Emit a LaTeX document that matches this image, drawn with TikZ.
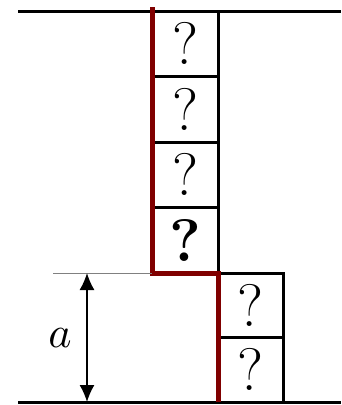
\documentclass[tikz,border=0pt]{standalone}
\usetikzlibrary{arrows.meta}
\definecolor{wallred}{RGB}{128,0,0}
\begin{document}
\begin{tikzpicture}[x=1pt,y=-1pt,
  qbox/.style={draw=black,line width=3pt,outer sep=0pt,minimum width=66pt,minimum height=65.5pt,inner sep=0pt,font=\fontsize{60}{64}\selectfont},
  wall/.style={line width=3pt,black},
  redpath/.style={line width=5pt,wallred,line join=miter},
  dim/.style={line width=1.5pt,{Latex[length=17pt,width=15pt]}-{Latex[length=17pt,width=15pt]}}]
\useasboundingbox (0,0) rectangle (341,405);
% boxes
\node[qbox] (u1) at (185,43.75) {?};
\node[qbox] (u2) at (185,109.25) {?};
\node[qbox] (u3) at (185,174.75) {?};
\node[qbox] (u4) at (185,240.25) {\bfseries ?};
\node[qbox,minimum width=65pt,minimum height=64.5pt] (l1) at (250.5,305.25) {?};
\node[qbox,minimum width=65pt,minimum height=64.5pt] (l2) at (250.5,369.75) {?};
% floor and ceiling
\coordinate (tl) at (18,11);
\coordinate (tr) at (341,11);
\coordinate (bl) at (18,402);
\coordinate (br) at (341,402);
\draw[wall] (tl) -- (tr);
\draw[wall] (bl) -- (br);
% red path
\coordinate (rt) at (152,7);
\draw[redpath] (rt) -- (u4.south west) -- (l1.north west) -- (l2.south west);
% thin reference line
\coordinate (g) at (53,273);
\draw[line width=0.8pt,gray] (g) -- (u4.south west);
% dimension
\coordinate (d1) at (87,273);
\coordinate (d2) at (87,402);
\draw[dim] (d1) -- (d2);
\node (a) at (60,338) {\scalebox{4.4}{$a$}};
\end{tikzpicture}
\end{document}
